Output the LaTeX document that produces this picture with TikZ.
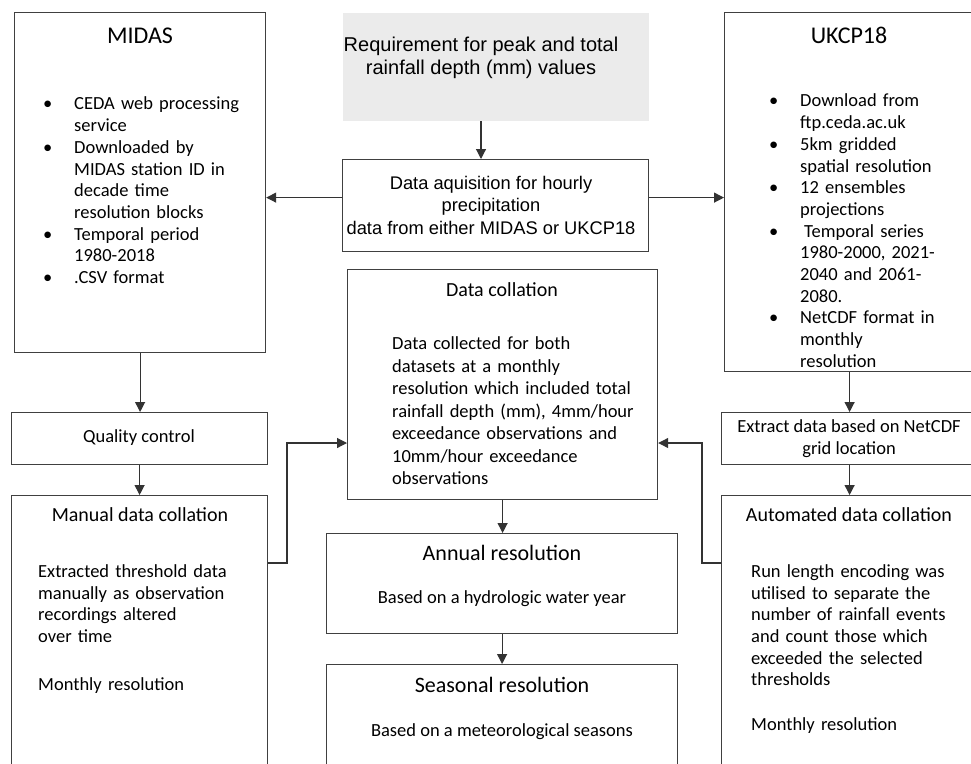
\documentclass[tikz,border=0pt]{standalone}
\usepackage{fontspec}
\setmainfont{Carlito}
\newfontfamily\arialfont{Liberation Sans}
\usetikzlibrary{arrows.meta}
\newcommand\bitem[1]{\par\hangindent=34pt\hangafter=1\noindent\makebox[34pt][l]{\strut\hspace{3pt}\textbullet}#1}
\tikzset{
  box/.style={draw=black!75, line width=1.2pt, inner sep=0pt, anchor=north west},
  flow/.style={draw=black!80, line width=1.2pt, -{Triangle[length=10pt,width=10pt]}},
  heading/.style={font=\fontsize{22}{26}\selectfont, inner sep=0pt},
  subhead/.style={font=\fontsize{20}{24}\selectfont, inner sep=0pt},
  body/.style={font=\fontsize{18.5}{21.7}\selectfont, inner sep=0pt, align=left, anchor=north west, execute at begin node=\strut},
  bullets/.style={font=\fontsize{18.5}{21.7}\selectfont, inner sep=0pt, anchor=north west, execute at begin node=\raggedright, execute at end node=\par},
  line/.style={font=\fontsize{18.5}{22}\selectfont, inner sep=0pt, align=center},
  arialtext/.style={font=\arialfont\fontsize{18.3}{22.5}\selectfont, inner sep=0pt, align=center}
}
\begin{document}
\begin{tikzpicture}[x=1pt,y=-1pt]
\useasboundingbox (0,0) rectangle (971,763);
\clip (0,0) rectangle (971,763);
\coordinate (ltap) at (287,563);
\coordinate (ltop) at (287,443);
\coordinate (rtap) at (702,563);
\coordinate (rtop) at (702,443);

\node[box, minimum width=251pt, minimum height=340pt] (midas) at (14,12) {};
\node[box, draw=none, fill=black!8, minimum width=306pt, minimum height=108pt] (req) at (342,12) {};
\node[box, minimum width=306pt, minimum height=92pt] (acq) at (342,159) {};
\node[box, minimum width=250pt, minimum height=359pt] (ukcp) at (724,12) {};
\node[box, minimum width=310pt, minimum height=230pt] (coll) at (347,269) {};
\node[box, minimum width=256pt, minimum height=52pt] (qc) at (11,412) {};
\node[box, minimum width=256pt, minimum height=300pt] (manual) at (11,495) {};
\node[box, minimum width=256pt, minimum height=52pt] (extract) at (721,412) {};
\node[box, minimum width=256pt, minimum height=300pt] (auto) at (721,495) {};
\node[box, minimum width=351pt, minimum height=100pt] (annual) at (326,533) {};
\node[box, minimum width=351pt, minimum height=130pt] (seasonal) at (326,664) {};

\node[heading, font=\fontsize{24}{28}\selectfont] (midastitle) at (140,36) {MIDAS};
\node[bullets, text width=220pt] (midaslist) at (40,88) {%
  \bitem{CEDA web processing\newline service}
  \bitem{Downloaded by\newline MIDAS station ID in\newline decade time\newline resolution blocks}
  \bitem{Temporal period\newline 1980-2018}
  \bitem{.CSV format}\par};

\node[heading, font=\fontsize{24}{28}\selectfont] (ukcptitle) at (849,35) {UKCP18};
\node[bullets, text width=200pt] (ukcplist) at (766,85) {%
  \bitem{Download from\newline ftp.ceda.ac.uk}
  \bitem{5km gridded\newline spatial resolution}
  \bitem{12 ensembles\newline projections}
  \bitem{\hspace{4pt}Temporal series\newline 1980-2000, 2021-\newline 2040 and 2061-\newline 2080.}
  \bitem{NetCDF format in\newline monthly\newline resolution}\par};

\node[arialtext, font=\arialfont\fontsize{20}{23}\selectfont] (reqtext) at (481,58) {Requirement for peak and total\\rainfall depth (mm) values};
\node[arialtext] (acqtext) at (491,205) {Data aquisition for hourly\\precipitation\\data from either MIDAS or UKCP18};

\node[subhead] (colltitle) at (502,290) {Data collation};
\node[body, font=\fontsize{18.5}{22.5}\selectfont, text width=260pt] (colltext) at (392,334) {Data collected for both\\datasets at a monthly\\resolution which included total\\rainfall depth (mm), 4mm/hour\\exceedance observations and\\10mm/hour exceedance\\observations};

\node[line] (qctext) at (139,438) {Quality control};
\node[subhead] (manualtitle) at (140,515) {Manual data collation};
\node[body, text width=230pt] (manualtext) at (38,562) {Extracted threshold data\\manually as observation\\recordings altered\\over time\\[26pt]Monthly resolution};

\node[line] (extracttext) at (849,439) {Extract data based on NetCDF\\grid location};
\node[subhead] (autotitle) at (849,515) {Automated data collation};
\node[body, text width=215pt] (autotext) at (751,562) {Run length encoding was\\utilised to separate the\\number of rainfall events\\and count those which\\exceeded the selected\\thresholds\\[23pt]Monthly resolution};

\node[heading] (annualtitle) at (502,553) {Annual resolution};
\node[line] (annualtext) at (502,599) {Based on a hydrologic water year};
\node[heading] (seasonaltitle) at (502,685) {Seasonal resolution};
\node[line] (seasonaltext) at (502,732) {Based on a meteorological seasons};

\draw[flow] (reqtext.south |- req.south) -- (reqtext.south |- acq.north);
\draw[flow] ([yshift=8pt]acq.west) -- ([yshift=8pt]acq.west -| midas.east);
\draw[flow] ([yshift=8pt]acq.east) -- ([yshift=8pt]acq.east -| ukcp.west);
\draw[flow] (midas.south) -- (midas.south |- qc.north);
\draw[flow] (qc.south) -- (qc.south |- manual.north);
\draw[flow] (ukcp.south) -- (ukcp.south |- extract.north);
\draw[flow] (extract.south) -- (extract.south |- auto.north);
\draw[flow] (coll.south) -- (coll.south |- annual.north);
\draw[flow] (annual.south) -- (annual.south |- seasonal.north);
\draw[flow] (ltap -| manual.east) -- (ltap) -- (ltop) -- (ltop -| coll.west);
\draw[flow] (rtap -| auto.west) -- (rtap) -- (rtop) -- (rtop -| coll.east);
\end{tikzpicture}
\end{document}
